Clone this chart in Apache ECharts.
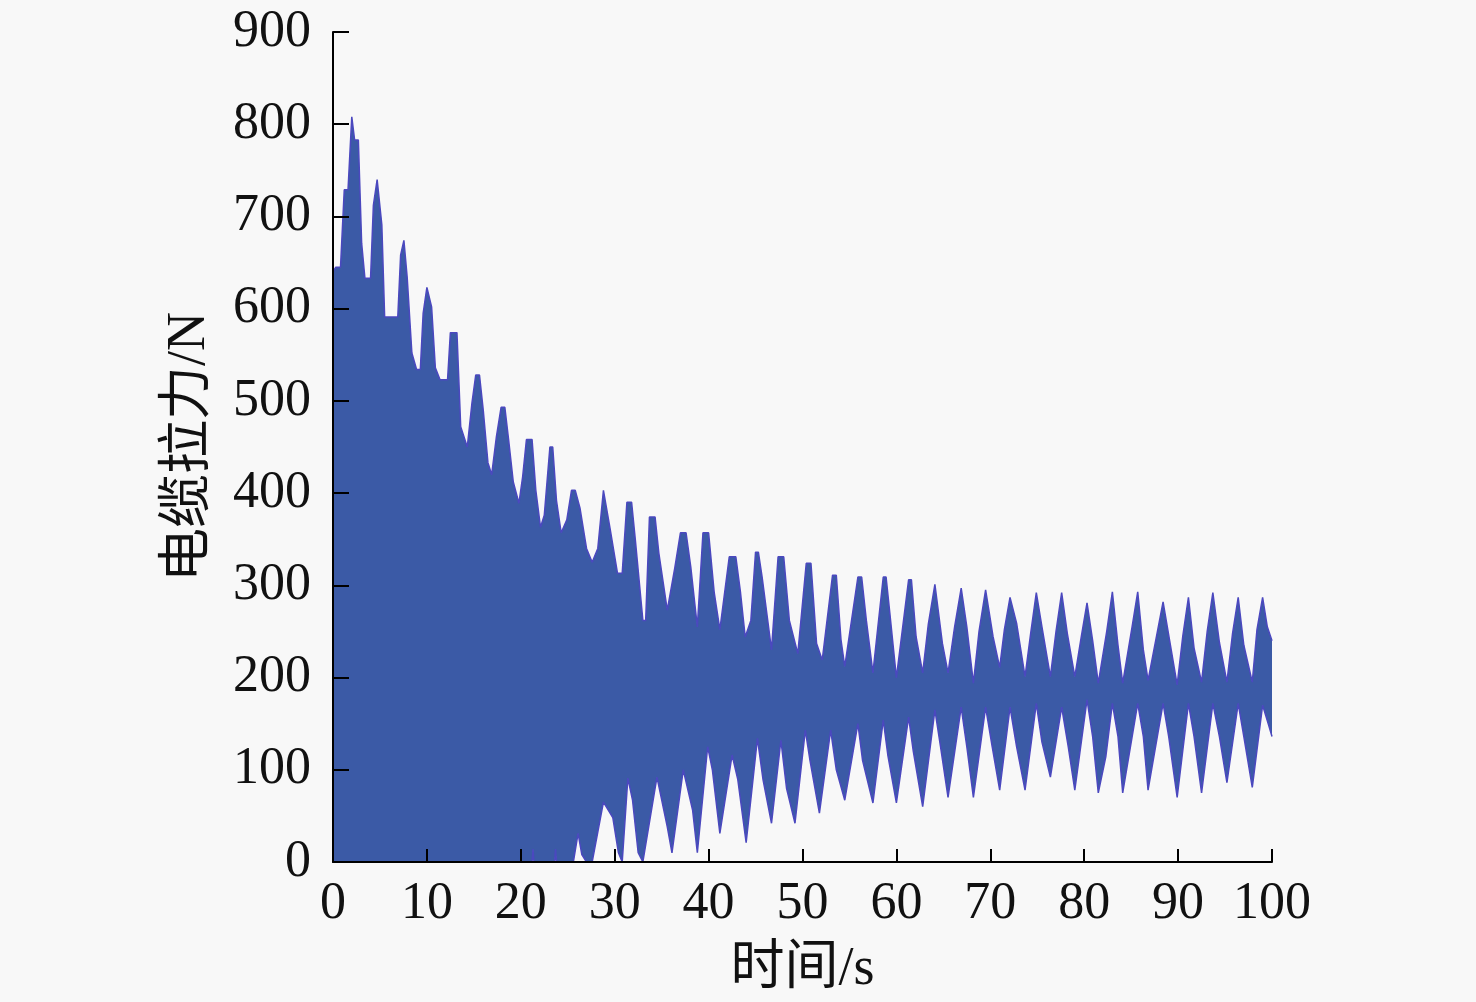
<!DOCTYPE html>
<html>
<head>
<meta charset="utf-8">
<script src="https://cdn.jsdelivr.net/npm/echarts@6/dist/echarts.min.js"></script>
<style>
  html, body { margin: 0; padding: 0; background: #f8f8f8; }
  #chart { width: 1476px; height: 1002px; }
</style>
</head>
<body>
<div id="chart"></div>
<script>
// upper edge of the cable tension trace, [time s, N]
const upperEarly = [
  [0, 640], [0.3, 645], [0.8, 645], [1.2, 729], [1.6, 729], [2.0, 808], [2.3, 783], [2.7, 783],
  [3.05, 671], [3.4, 633], [4.0, 633], [4.3, 712], [4.7, 740], [5.2, 691], [5.5, 591], [6.9, 591],
  [7.2, 658], [7.55, 674], [7.9, 634], [8.4, 552], [8.9, 534], [9.3, 534], [9.6, 595], [10.0, 623],
  [10.5, 602], [10.9, 536], [11.4, 523], [12.2, 523], [12.5, 574], [13.2, 574], [13.6, 472],
  [14.3, 450], [14.8, 498], [15.2, 528], [15.6, 528], [16.0, 490], [16.5, 433], [16.9, 420],
  [17.4, 461], [17.9, 493], [18.3, 493], [18.7, 458], [19.2, 412], [19.8, 389], [20.2, 418]
]
const upperMid = [
  [20.6, 458], [21.2, 458], [21.6, 403], [22.1, 363], [22.5, 376], [23.1, 450], [23.4, 450],
  [23.8, 392], [24.3, 357], [24.9, 371], [25.4, 403], [25.8, 403], [26.3, 384], [27.0, 340],
  [27.6, 325], [28.2, 340], [28.8, 403], [29.5, 362], [30.3, 313], [30.8, 313], [31.3, 390],
  [31.8, 390], [32.2, 349], [33.0, 262], [33.3, 262], [33.7, 374], [34.3, 374], [34.7, 335],
  [35.6, 273], [36.4, 319], [37.0, 357], [37.6, 357], [38.1, 320], [38.8, 255], [39.4, 357],
  [40.0, 357], [40.6, 292], [41.2, 252], [42.2, 331], [42.9, 331], [43.4, 292], [43.9, 244],
  [44.5, 262], [45.0, 336], [45.3, 336], [45.7, 309], [46.7, 230], [47.4, 331], [48.0, 331],
  [48.6, 262], [49.5, 226], [50.4, 324], [50.9, 324], [51.5, 237], [52.1, 219], [53.2, 311],
  [53.6, 311], [54.1, 241], [54.5, 212], [55.9, 309], [56.3, 309], [56.8, 262], [57.5, 205],
  [58.6, 309], [58.9, 309], [59.3, 270], [60.0, 200], [61.3, 306], [61.6, 306], [62.1, 244]
]
const upperLate = [
  [62.8, 205], [63.4, 258], [64.1, 301], [64.9, 237], [65.5, 205], [66.2, 255], [66.9, 297],
  [67.5, 255], [68.2, 194], [68.8, 250], [69.5, 295], [70.3, 244], [71.0, 211], [71.5, 252],
  [72.1, 287], [72.8, 259], [73.7, 201], [74.3, 248], [74.9, 292], [75.5, 255], [76.4, 201],
  [77.0, 250], [77.6, 292], [78.2, 248], [79.0, 201], [79.7, 245], [80.3, 281], [80.9, 240],
  [81.5, 194], [82.4, 250], [83.0, 293], [83.6, 235], [84.1, 194], [85.1, 255], [85.7, 293],
  [86.3, 230], [86.8, 197], [87.8, 250], [88.4, 282], [89.1, 240], [89.9, 192], [90.5, 245],
  [91.1, 287], [91.7, 232], [92.5, 195], [93.1, 250], [93.7, 292], [94.4, 238], [95.2, 195],
  [95.8, 248], [96.4, 287], [97.0, 235], [97.9, 195], [98.4, 252], [99.0, 287], [99.5, 255],
  [100, 240]
]
// lower edge of the trace
const lowerMid = [
  [0, 0], [21.2, 0], [21.3, 14], [21.4, 0], [23.6, 0], [23.7, 14], [23.8, 0], [25.6, 0],
  [26.1, 31], [26.5, 8], [27.0, 0], [27.6, 0], [28.8, 65], [29.8, 48], [30.4, 10], [30.8, 0],
  [31.4, 91], [31.9, 67], [32.5, 10], [33.0, 0], [34.5, 92], [35.6, 38], [36.1, 10], [37.3, 100],
  [38.3, 56], [38.8, 10], [39.9, 125], [40.4, 100], [41.2, 31], [42.5, 116], [43.1, 90],
  [44.0, 21], [45.2, 134], [45.8, 89], [46.7, 42], [47.7, 132], [48.3, 80], [49.2, 42],
  [50.3, 143], [50.8, 110], [51.8, 53], [53.0, 143], [53.6, 100], [54.5, 67], [55.9, 150],
  [56.4, 110], [57.5, 64], [58.6, 154], [59.1, 115], [60.0, 64], [61.3, 157], [61.8, 120]
]
const lowerLate = [
  [62.8, 60], [64.1, 165], [64.7, 125], [65.5, 70], [66.9, 168], [67.5, 125], [68.2, 70],
  [69.5, 168], [70.2, 125], [71.0, 78], [72.1, 168], [72.8, 125], [73.7, 78], [74.9, 172],
  [75.5, 130], [76.4, 92], [77.6, 168], [78.3, 125], [79.0, 78], [80.3, 176], [80.9, 136],
  [81.5, 75], [82.3, 114], [83.0, 172], [83.6, 136], [84.1, 75], [85.7, 172], [86.3, 136],
  [86.8, 78], [88.4, 172], [89.0, 136], [89.9, 70], [91.1, 172], [91.7, 136], [92.5, 75],
  [93.7, 172], [94.4, 136], [95.2, 86], [96.4, 172], [97.0, 136], [97.9, 81], [99.0, 170],
  [99.6, 150], [100, 136]
]
const xTicks = [0, 10, 20, 30, 40, 50, 60, 70, 80, 90, 100]
const yTicks = [0, 100, 200, 300, 400, 500, 600, 700, 800, 900]

const bg = '#f8f8f8'
const serif = '"Liberation Serif", "Noto Sans CJK SC", serif'
const upper = upperEarly.concat(upperMid, upperLate)
const lower = lowerMid.concat(lowerLate)

const chart = echarts.init(document.getElementById('chart'))
chart.setOption({
  backgroundColor: bg,
  animation: false,
  grid: { left: 333, right: 204, top: 32, bottom: 140 },
  xAxis: {
    type: 'value',
    min: xTicks[0],
    max: xTicks[xTicks.length - 1],
    interval: 10,
    z: 5,
    name: '时间/s',
    nameLocation: 'middle',
    nameGap: 81,
    nameTextStyle: { fontFamily: serif, fontSize: 54, color: '#111' },
    axisLine: { lineStyle: { color: '#000', width: 2 } },
    axisTick: { inside: true, length: 13, lineStyle: { color: '#000', width: 2 } },
    axisLabel: { fontFamily: serif, fontSize: 52, color: '#111', margin: 16 },
    splitLine: { show: false },
  },
  yAxis: {
    type: 'value',
    min: yTicks[0],
    max: yTicks[yTicks.length - 1],
    interval: 100,
    z: 5,
    name: '电缆拉力/N',
    nameLocation: 'middle',
    nameGap: 116,
    nameTextStyle: { fontFamily: serif, fontSize: 54, color: '#111' },
    axisLine: { show: true, lineStyle: { color: '#000', width: 2 } },
    axisTick: { show: true, inside: true, length: 16, lineStyle: { color: '#000', width: 2 } },
    axisLabel: { fontFamily: serif, fontSize: 52, color: '#111', margin: 22 },
    splitLine: { show: false },
  },
  series: [
    {
      name: 'upper',
      type: 'line',
      data: upper,
      symbol: 'none',
      z: 2,
      lineStyle: { color: '#4b48bf', width: 1.5 },
      areaStyle: { color: '#3b5aa6', opacity: 1 },
    },
    {
      name: 'lower',
      type: 'line',
      data: lower,
      symbol: 'none',
      z: 3,
      lineStyle: { color: '#4b48bf', width: 1.5 },
      areaStyle: { color: bg, opacity: 1 },
    },
  ],
})
</script>
</body>
</html>
